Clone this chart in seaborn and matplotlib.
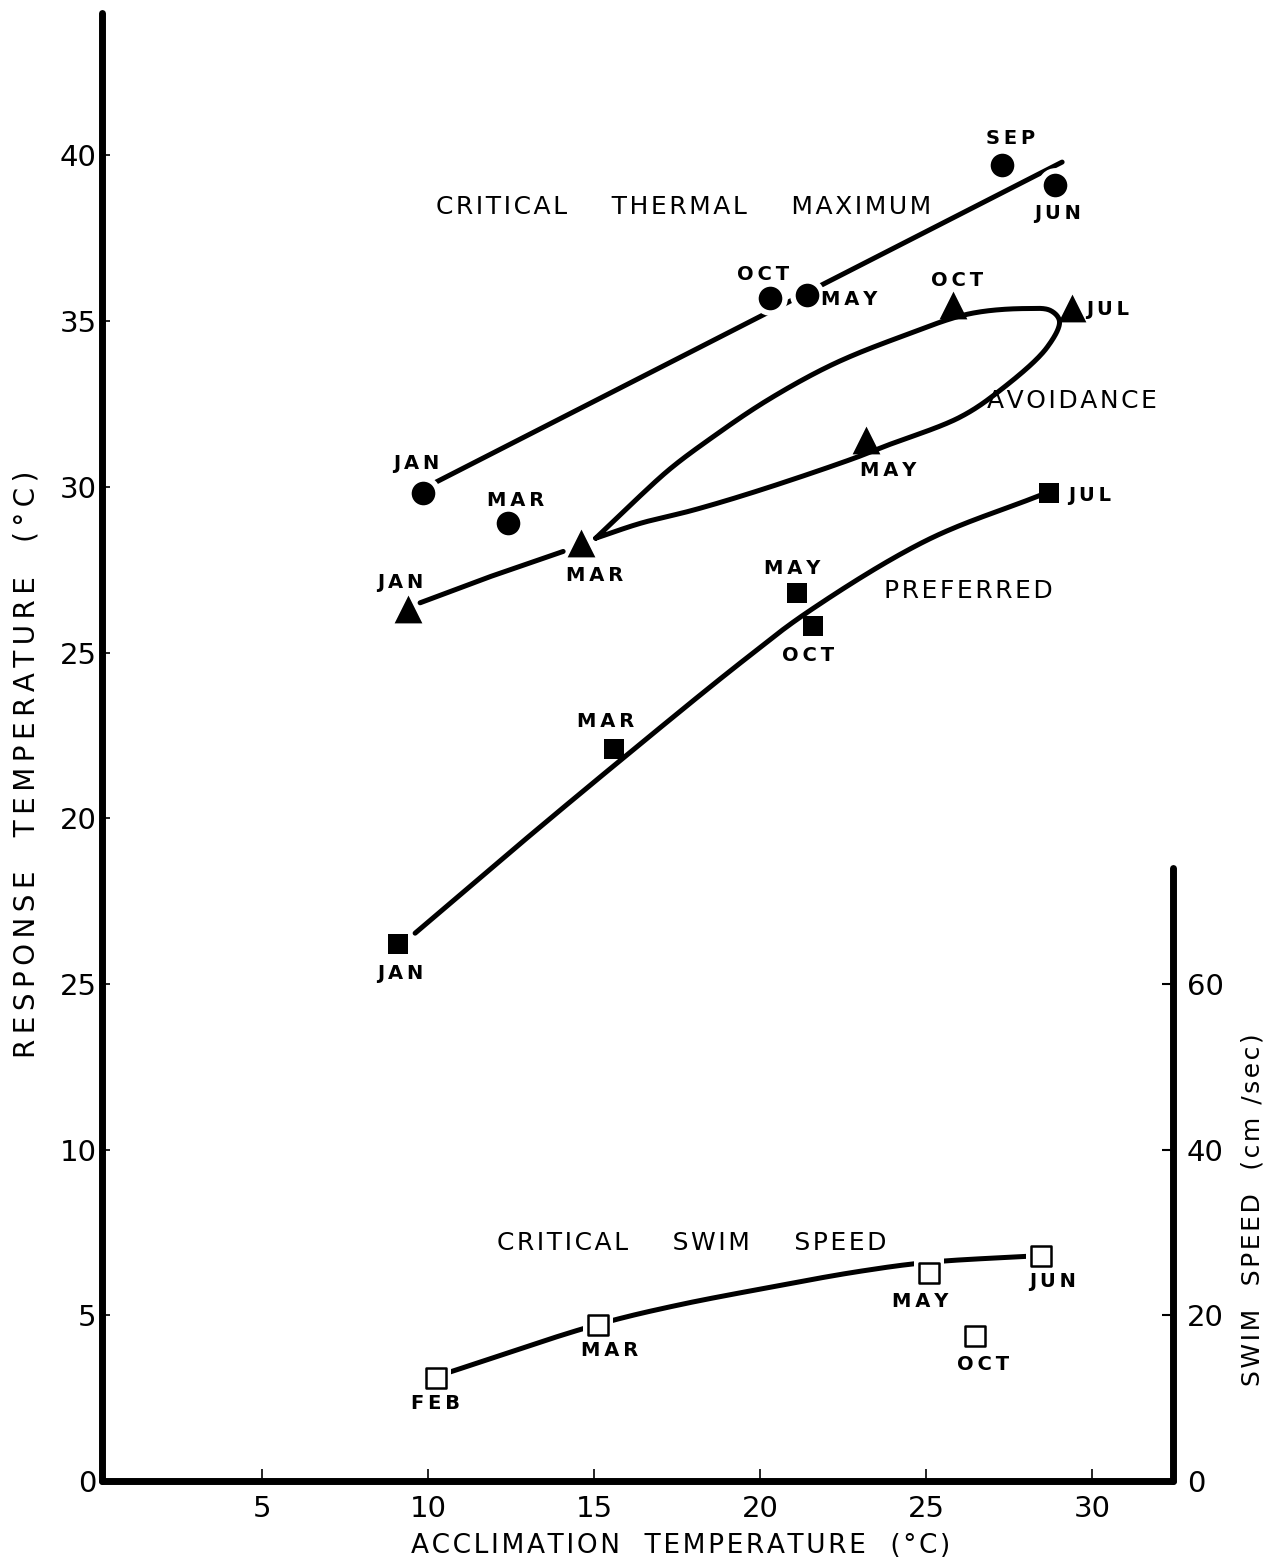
import numpy as np
import pandas as pd
import matplotlib
matplotlib.use("Agg")
import matplotlib.pyplot as plt
import seaborn as sns

# ---- Critical thermal maximum (filled circles) ----
ctm_month = ["JAN", "MAR", "OCT", "MAY", "SEP", "JUN"]
ctm_accl = [9.85, 12.4, 20.3, 21.4, 27.3, 28.9]
ctm_resp = [29.8, 28.9, 35.7, 35.8, 39.7, 39.1]
ctm_label_xy = [(9.64, 30.7), (12.65, 29.6), (20.1, 36.4), (22.7, 35.65), (27.55, 40.5), (28.95, 38.25)]
ctm_fit_x = [10.06, 29.1]
ctm_fit_y = [30.05, 39.8]

# ---- Avoidance (filled triangles) ----
avo_month = ["JAN", "MAR", "MAY", "OCT", "JUL"]
avo_accl = [9.4, 14.6, 23.2, 25.8, 29.4]
avo_resp = [26.3, 28.3, 31.4, 35.5, 35.4]
avo_label_xy = [(9.16, 27.12), (15.03, 27.33), (23.86, 30.5), (25.93, 36.23), (30.48, 35.35)]
avo_lead_x = [9.76, 11.9, 14.07]
avo_lead_y = [26.5, 27.3, 28.05]
avo_loop_x = [15.05, 16.2, 17.3, 18.5, 20.2, 22.2, 24.3, 26.3, 28.0, 28.75, 29.02, 28.64,
              27.23, 26.02, 23.83, 22.8, 20.0, 18.0, 16.4, 15.05]
avo_loop_y = [28.45, 29.55, 30.55, 31.45, 32.6, 33.7, 34.55, 35.22, 35.38, 35.32, 35.0, 34.2,
              32.91, 32.1, 31.25, 30.85, 29.9, 29.3, 28.9, 28.45]

# ---- Preferred (filled squares) ----
pref_month = ["JAN", "MAR", "MAY", "OCT", "JUL"]
pref_accl = [9.1, 15.6, 21.1, 21.6, 28.7]
pref_resp = [16.2, 22.1, 26.8, 25.8, 29.8]
pref_label_xy = [(9.16, 15.32), (15.36, 22.93), (20.96, 27.54), (21.45, 24.92), (29.94, 29.74)]
pref_curve_x = [9.61, 12.68, 15.69, 19.4, 21.42, 25.03, 28.43]
pref_curve_y = [16.53, 19.15, 21.66, 24.68, 26.21, 28.39, 29.74]

# ---- Critical swim speed (open squares, right axis, cm/sec) ----
swim_month = ["FEB", "MAR", "MAY", "OCT", "JUN"]
swim_accl = [10.24, 15.12, 25.09, 26.48, 28.46]
swim_speed = [12.4, 18.8, 25.1, 17.5, 27.2]
swim_label_xy = [(10.21, 9.4), (15.48, 15.7), (24.82, 21.7), (26.72, 14.1), (28.8, 24.1)]
swim_curve_x = [10.24, 15.12, 17.5, 20.2, 23.0, 25.1, 28.46]
swim_curve_y = [12.6, 18.9, 21.2, 23.3, 25.3, 26.4, 27.2]

# ---- Axes ----
x_ticks = [5, 10, 15, 20, 25, 30]
y_ticks = [0, 5, 10, 15, 20, 25, 30, 35, 40]
y_tick_labels = ["0", "5", "10", "25", "20", "25", "30", "35", "40"]
swim_ticks = [0, 20, 40, 60]
x_range = (0.18, 32.44)
y_range = (0, 44.3)
swim_top = 74
swim_per_degree = 4.0

THIN = "\u2009"
HAIR = "\u200a"


def spaced(text, gap=THIN):
    """Open up letter spacing the way stencil lettering looks."""
    return gap.join(text)


def catmull_rom(xs, ys, n=40, alpha=0.5):
    """Centripetal Catmull-Rom spline through the given knots."""
    P = np.column_stack([xs, ys]).astype(float)
    P = np.vstack([2 * P[0] - P[1], P, 2 * P[-1] - P[-2]])
    segs = []
    for i in range(1, len(P) - 2):
        p0, p1, p2, p3 = P[i - 1], P[i], P[i + 1], P[i + 2]
        t0 = 0.0
        t1 = t0 + np.linalg.norm(p1 - p0) ** alpha
        t2 = t1 + np.linalg.norm(p2 - p1) ** alpha
        t3 = t2 + np.linalg.norm(p3 - p2) ** alpha
        t = np.linspace(t1, t2, n, endpoint=False)[:, None]
        a1 = (t1 - t) / (t1 - t0) * p0 + (t - t0) / (t1 - t0) * p1
        a2 = (t2 - t) / (t2 - t1) * p1 + (t - t1) / (t2 - t1) * p2
        a3 = (t3 - t) / (t3 - t2) * p2 + (t - t2) / (t3 - t2) * p3
        b1 = (t2 - t) / (t2 - t0) * a1 + (t - t0) / (t2 - t0) * a2
        b2 = (t3 - t) / (t3 - t1) * a2 + (t - t1) / (t3 - t1) * a3
        segs.append((t2 - t) / (t2 - t1) * b1 + (t - t1) / (t2 - t1) * b2)
    segs.append(P[-2][None])
    out = np.vstack(segs)
    return out[:, 0], out[:, 1]


sns.set_theme(style="white")
plt.rcParams["font.family"] = ["DejaVu Sans"]
plt.rcParams["text.color"] = "black"
plt.rcParams["axes.labelcolor"] = "black"
plt.rcParams["xtick.color"] = "black"
plt.rcParams["ytick.color"] = "black"

fig = plt.figure(figsize=(12.71, 15.62), dpi=100)
ax = fig.add_axes([0.0803, 0.0519, 0.8426, 0.9398])
ax2 = ax.twinx()

LW = 3.6
line_kw = dict(color="black", linewidth=LW, sort=False, estimator=None, legend=False)

# fitted curves
sns.lineplot(x=ctm_fit_x, y=ctm_fit_y, ax=ax, **line_kw)
sns.lineplot(x=avo_lead_x, y=avo_lead_y, ax=ax, **line_kw)
lx, ly = catmull_rom(avo_loop_x, avo_loop_y)
sns.lineplot(x=lx, y=ly, ax=ax, **line_kw)
px, py = catmull_rom(pref_curve_x, pref_curve_y)
sns.lineplot(x=px, y=py, ax=ax, **line_kw)
sx, sy = catmull_rom(swim_curve_x, swim_curve_y)
sns.lineplot(x=sx, y=sy, ax=ax2, **line_kw)

# white halos so lines stop short of the symbols
sns.scatterplot(x=ctm_accl, y=ctm_resp, ax=ax, marker="o", s=25 ** 2,
                color="white", edgecolor="white", linewidth=0, zorder=3, legend=False)
sns.scatterplot(x=swim_accl, y=swim_speed, ax=ax2, marker="s", s=22 ** 2,
                color="white", edgecolor="white", linewidth=0, zorder=3, legend=False)

# symbols
sns.scatterplot(x=ctm_accl, y=ctm_resp, ax=ax, marker="o", s=17 ** 2,
                color="black", edgecolor="black", linewidth=0, zorder=4, legend=False)
sns.scatterplot(x=avo_accl, y=avo_resp, ax=ax, marker="^", s=20 ** 2,
                color="black", edgecolor="black", linewidth=0, zorder=4, legend=False)
sns.scatterplot(x=pref_accl, y=pref_resp, ax=ax, marker="s", s=15 ** 2,
                color="black", edgecolor="black", linewidth=0, zorder=4, legend=False)
sns.scatterplot(x=swim_accl, y=swim_speed, ax=ax2, marker="s", s=14 ** 2,
                color="white", edgecolor="black", linewidth=1.8, zorder=4, legend=False)

# month labels
MFS = 14
month_kw = dict(ha="center", va="center", fontsize=MFS, fontweight="bold", color="black")
for m, (x, y) in zip(ctm_month, ctm_label_xy):
    ax.text(x, y, spaced(m), **month_kw)
for m, (x, y) in zip(avo_month, avo_label_xy):
    ax.text(x, y, spaced(m), **month_kw)
for m, (x, y) in zip(pref_month, pref_label_xy):
    ax.text(x, y, spaced(m), **month_kw)
for m, (x, y) in zip(swim_month, swim_label_xy):
    ax2.text(x, y, spaced(m), **month_kw)

# series names
TFS = 18
title_kw = dict(ha="center", va="center", fontsize=TFS, color="black")
ax.text(17.71, 38.43, spaced("CRITICAL    THERMAL    MAXIMUM", HAIR), **title_kw)
ax.text(29.4, 32.58, spaced("AVOIDANCE", HAIR), **title_kw)
ax.text(26.27, 26.85, spaced("PREFERRED", HAIR), **title_kw)
ax2.text(17.95, 28.7, spaced("CRITICAL    SWIM    SPEED", HAIR), **title_kw)

# axes styling
ax.set_xlim(*x_range)
ax.set_ylim(*y_range)
ax2.set_ylim(y_range[0] * swim_per_degree, y_range[1] * swim_per_degree)

ax.set_xticks(x_ticks)
ax.set_xticklabels([str(v) for v in x_ticks])
ax.set_yticks(y_ticks)
ax.set_yticklabels(y_tick_labels)
ax2.set_yticks(swim_ticks)
ax2.set_yticklabels([str(v) for v in swim_ticks])

for a in (ax, ax2):
    a.grid(False)
    a.set_facecolor("none")
    a.spines["top"].set_visible(False)
ax.spines["right"].set_visible(False)
ax2.spines["left"].set_visible(False)
ax2.spines["bottom"].set_visible(False)
for side in ("left", "bottom"):
    ax.spines[side].set_linewidth(5)
    ax.spines[side].set_color("black")
    ax.spines[side].set_capstyle("round")
ax2.spines["right"].set_linewidth(5)
ax2.spines["right"].set_color("black")
ax2.spines["right"].set_capstyle("round")
ax2.spines["right"].set_bounds(0, swim_top)

ax.tick_params(axis="x", direction="in", length=9, width=1.2, color="black",
               labelsize=21, pad=10, bottom=True)
ax.tick_params(axis="y", direction="in", length=6, width=1.2, color="black",
               labelsize=21, pad=4, left=True)
ax2.tick_params(axis="y", direction="in", length=8, width=1.5, color="black",
                labelsize=21, pad=10, right=True)

ax.set_xlabel(spaced("ACCLIMATION  TEMPERATURE  (°C)", HAIR), fontsize=19)
ax.xaxis.set_label_coords(0.54, -0.0354)
ax.set_ylabel(spaced("RESPONSE  TEMPERATURE  (°C)"), fontsize=20)
ax.yaxis.set_label_coords(-0.0575, 0.488)
ax2.set_ylabel(spaced("SWIM  SPEED  (cm /sec)", HAIR), fontsize=18)
ax2.yaxis.set_label_coords(1.0626, 0.185)

fig.savefig("out.png", dpi=100, facecolor="white")
